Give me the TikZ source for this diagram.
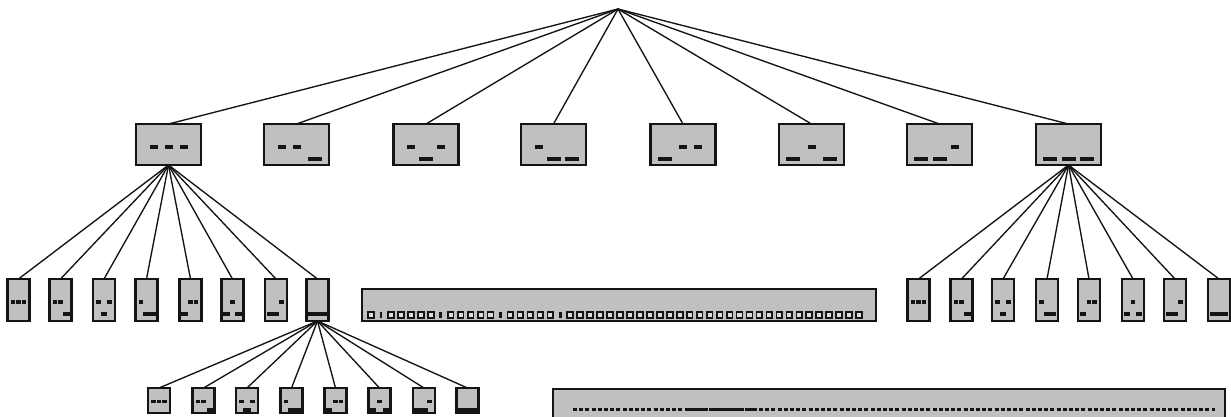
\documentclass[tikz,border=0pt]{standalone}
\usetikzlibrary{calc}
\definecolor{boxgrey}{RGB}{192,192,192}
\definecolor{ink}{RGB}{20,20,20}
\tikzset{
  box/.style={draw=ink, line width=2.2bp, fill=boxgrey, inner sep=0pt, outer sep=0pt},
  widebox/.style={box, minimum width=65bp, minimum height=41bp},
  tallbox/.style={box, minimum width=22bp, minimum height=42bp},
  smallbox/.style={box, minimum width=22bp, minimum height=25bp},
  link/.style={draw=ink, line width=1.35bp},
  markfill/.style={fill=ink},
}
% three marks per box: a 0 bit sits high and short, a 1 bit sits low and long
\newcommand\codemarks[4]{%
  \foreach \b [count=\k from -1] in {#2,#3,#4}{%
    \ifnum\b=0\relax
      \fill[markfill] ($(#1.center)+({\k*\upsep-\upw/2},{\upy-\uph/2})$) rectangle ++(\upw,\uph);
    \else
      \fill[markfill] ($(#1.center)+({\k*\dnsep-\dnw/2},{\dny-\dnh/2})$) rectangle ++(\dnw,\dnh);
    \fi
  }}
\begin{document}
\begin{tikzpicture}[x=1bp,y=-1bp]
\useasboundingbox (0,0) rectangle (1231,416);
\fill[white] (0,0) rectangle (1231,416);
\clip (0,0) rectangle (1231,416);

\coordinate (root) at (618,9);

% first level
\def\upsep{15}\def\upw{8}\def\uph{4}\def\upy{2.5}
\def\dnsep{18.5}\def\dnw{14}\def\dnh{4}\def\dny{14.5}
\foreach \cx/\p/\q/\r [count=\i] in
  {168.5/0/0/0, 296.5/0/0/1, 426/0/1/0, 553.5/0/1/1,
   683/1/0/0, 811.5/1/0/1, 939.5/1/1/0, 1068.5/1/1/1}{
  \draw[link] (root) -- (\cx,124);
  \node[widebox] (a\i) at (\cx,144.5) {};
  \codemarks{a\i}{\p}{\q}{\r}
}

% second level, under the first and the last box
\def\upsep{5.5}\def\upw{4.2}\def\uph{4}\def\upy{2}
\def\dnsep{6}\def\dnw{6.8}\def\dnh{4}\def\dny{14}
\foreach \cx/\p/\q/\r [count=\i] in
  {18.5/0/0/0, 60.5/0/0/1, 104/0/1/0, 146.5/0/1/1,
   190.5/1/0/0, 232.5/1/0/1, 276/1/1/0, 317.5/1/1/1}{
  \node[tallbox] (l\i) at (\cx,300) {};
  \codemarks{l\i}{\p}{\q}{\r}
  \draw[link] (a1.south) -- (l\i.north);
}
\foreach \cx/\p/\q/\r [count=\i] in
  {918.5/0/0/0, 961.5/0/0/1, 1003/0/1/0, 1047/0/1/1,
   1089/1/0/0, 1133/1/0/1, 1175/1/1/0, 1219/1/1/1}{
  \node[tallbox] (r\i) at (\cx,300) {};
  \codemarks{r\i}{\p}{\q}{\r}
  \draw[link] (a8.south) -- (r\i.north);
}

% third level, under the last box on the left
\def\upsep{5.5}\def\upw{4.2}\def\uph{3.5}\def\upy{1}
\def\dnsep{7}\def\dnw{7.5}\def\dnh{5}\def\dny{10}
\foreach \cx/\p/\q/\r [count=\i] in
  {159/0/0/0, 203.5/0/0/1, 247/0/1/0, 291.5/0/1/1,
   335.5/1/0/0, 379.5/1/0/1, 424/1/1/0, 467.5/1/1/1}{
  \node[smallbox] (s\i) at (\cx,400.5) {};
  \codemarks{s\i}{\p}{\q}{\r}
  \draw[link] (l8.south) -- (s\i.north);
}

% long strip with a row of cells
\node[box, minimum width=514bp, minimum height=32bp] (bar1) at (619,305) {};
\foreach \j in {1,...,50}{
  \pgfmathsetmacro\sx{371+(\j-1)*9.96}
  \ifnum\j=2\relax \fill[ink] (\sx-1.4,311.8) rectangle (\sx+1.4,318.4);
  \else\ifnum\j=8\relax \fill[ink] (\sx-1.4,311.8) rectangle (\sx+1.4,318.4);
  \else\ifnum\j=14\relax \fill[ink] (\sx-1.4,311.8) rectangle (\sx+1.4,318.4);
  \else\ifnum\j=20\relax \fill[ink] (\sx-1.4,311.8) rectangle (\sx+1.4,318.4);
  \else \draw[ink, line width=1.7bp, fill=boxgrey!55!white] (\sx-2.9,312.3) rectangle (\sx+2.9,317.9);
  \fi\fi\fi\fi
}

% second long strip, running past the lower edge
\node[box, anchor=north west, minimum width=672bp, minimum height=36bp] (bar2) at (553,389) {};
\draw[ink, line width=3bp, dash pattern=on 4bp off 2.2bp] (573,409) -- (1215,409);
\foreach \xa/\xb in {687/698, 700/708, 712/742, 745/753}{
  \fill[ink] (\xa,407.5) rectangle (\xb,410.5);
}
\end{tikzpicture}
\end{document}
